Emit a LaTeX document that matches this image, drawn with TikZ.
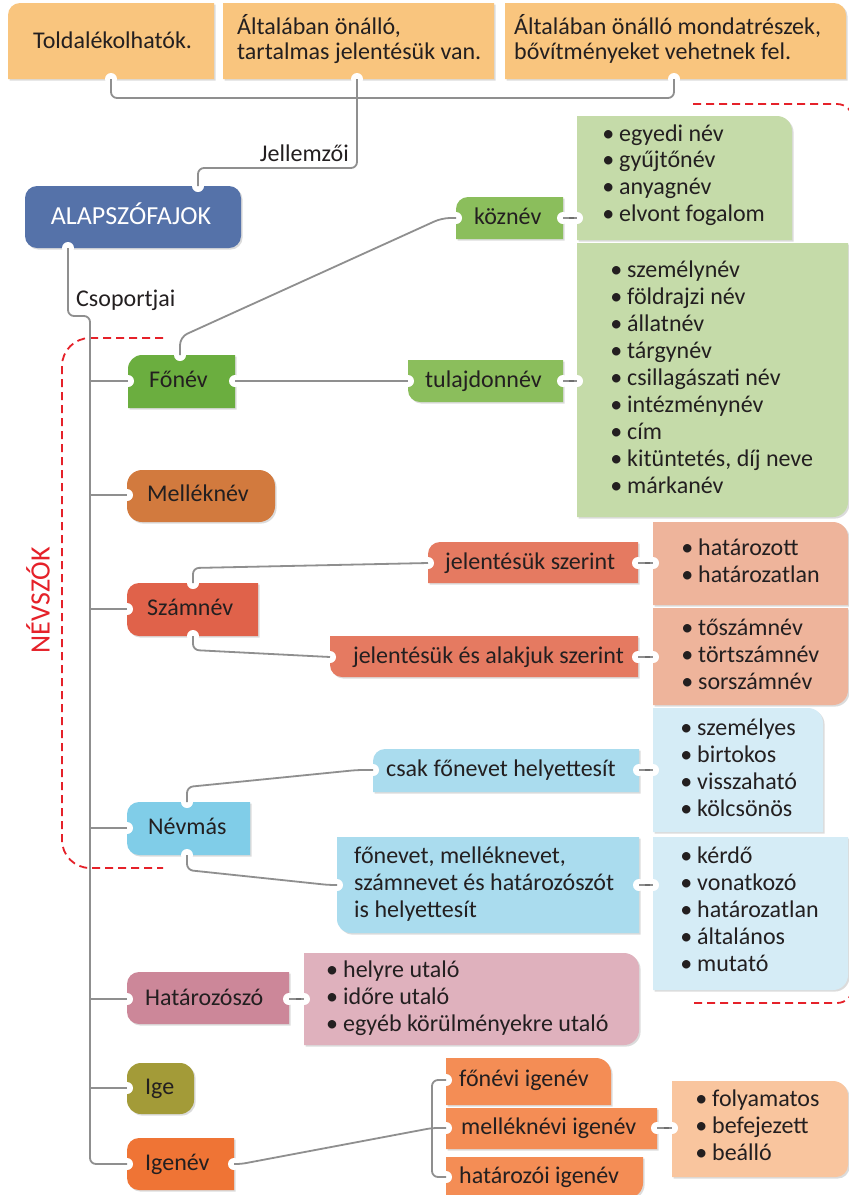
\documentclass[tikz,border=0pt]{standalone}
\usepackage{fontspec}
\setmainfont{Carlito}
\usetikzlibrary{shadows,decorations.markings}
\definecolor{txtc}{HTML}{231F20}
\definecolor{connc}{HTML}{8F8F8F}
\definecolor{conndark}{HTML}{6E6E6E}
\definecolor{redc}{HTML}{E52129}
\definecolor{topc}{HTML}{F9C57E}
\definecolor{bluec}{HTML}{5572A9}
\definecolor{fonevc}{HTML}{6BAE3F}
\definecolor{greenchild}{HTML}{8BBE5C}
\definecolor{greenlist}{HTML}{C5DBA9}
\definecolor{mellekc}{HTML}{D27A3E}
\definecolor{szamc}{HTML}{E0624A}
\definecolor{szamchild}{HTML}{E57A61}
\definecolor{szamlist}{HTML}{EEB49B}
\definecolor{nevmasc}{HTML}{80CDE8}
\definecolor{nevchild}{HTML}{AADCEE}
\definecolor{nevlist}{HTML}{D5ECF6}
\definecolor{hatc}{HTML}{CC8799}
\definecolor{hatlist}{HTML}{DFB1BD}
\definecolor{igec}{HTML}{A39B38}
\definecolor{igenevc}{HTML}{EF7435}
\definecolor{igchild}{HTML}{F48D55}
\definecolor{iglist}{HTML}{F9C59E}
% #1 fill, #2 x1, #3 y1, #4 x2, #5 y2, #6 rTL, #7 rTR, #8 rBR, #9 rBL
\newcommand\shapebox[9]{%
 \fill[#1,boxshadow] (#2,{#3+#6}) arc[start angle=180,end angle=90,radius={#6*1pt}]
 -- ({#4-#7},#3) arc[start angle=90,end angle=0,radius={#7*1pt}]
 -- (#4,{#5-#8}) arc[start angle=0,end angle=-90,radius={#8*1pt}]
 -- ({#2+#9},#5) arc[start angle=-90,end angle=-180,radius={#9*1pt}] -- cycle;}
\newcommand\cutout[3]{\coordinate (#1) at (#2,#3); \fill[white] (#1) circle[radius=6pt];}
\newcommand\listitems[5]{%
 \foreach \t [count=\i] in {#5} {\node[txt] (#1\i) at (#2,{#3+(\i-1)*#4}) {\llap{•\hspace{5pt}}\t};}}
\begin{document}
\begin{tikzpicture}[x=1pt,y=-1pt,
 boxshadow/.style={drop shadow={opacity=0.28,shadow xshift=1.6pt,shadow yshift=-1.6pt}},
 connl/.style={draw=connc,line width=1.8pt},
 tickline/.style={connl,postaction={decorate,decoration={markings,mark=at position 0.6 with {\fill[conndark] (-2.5pt,-1.3pt) rectangle (2.5pt,1.3pt);}}}},
 reddash/.style={draw=redc,line width=1.8pt,dash pattern=on 8pt off 5pt},
 txt/.style={inner sep=0pt,text height=17pt,text depth=5pt,text=txtc,font=\fontsize{24}{27}\selectfont,anchor=west}]
\useasboundingbox (0,0) rectangle (849,1195);
\fill[white] (0,0) rectangle (849,1195);

% red dashed groups
\draw[reddash,rounded corners=28pt] (163,338) -- (62,338) -- (62,868) -- (163,868);
\draw[reddash,rounded corners=16pt] (693,104) -- (853,104) -- (853,1003) -- (693,1003);

% top boxes
\shapebox{topc}{8}{3}{214}{79}{12}{0.01}{0.01}{0.01}
\cutout{tb1-b}{111}{79}
\shapebox{topc}{223}{3}{494}{79}{0.01}{0.01}{0.01}{0.01}
\cutout{tb2-b}{357}{79}
\shapebox{topc}{505}{3}{846}{79}{0.01}{12}{0.01}{0.01}
\cutout{tb3-b}{674}{79}

% root
\shapebox{bluec}{25}{186}{241}{248}{12}{12}{12}{12}
\cutout{alap-t}{198}{186}
\cutout{alap-b}{68}{248}
\coordinate (spine) at (90,316);

% main categories
\shapebox{fonevc}{128}{355}{235}{408}{14}{0.01}{0.01}{0.01}
\cutout{fonev-l}{128}{381}
\cutout{fonev-t}{180}{355}
\cutout{fonev-r}{235}{381}
\shapebox{mellekc}{127}{470}{275}{522}{15}{16}{16}{15}
\cutout{mellek-l}{127}{495}
\shapebox{szamc}{127}{583}{258}{636}{12}{0.01}{0.01}{12}
\cutout{szam-l}{127}{609}
\cutout{szam-t}{193}{583}
\cutout{szam-b}{193}{636}
\shapebox{nevmasc}{127}{802}{250}{855}{12}{0.01}{0.01}{12}
\cutout{nevmas-l}{127}{828}
\cutout{nevmas-t}{187}{802}
\cutout{nevmas-b}{187}{855}
\shapebox{hatc}{127}{972}{289}{1024}{12}{0.01}{0.01}{12}
\cutout{hat-l}{127}{999}
\cutout{hat-r}{289}{999}
\shapebox{igec}{127}{1063}{194}{1114}{14}{14}{14}{14}
\cutout{ige-l}{127}{1088}
\shapebox{igenevc}{127}{1138}{234}{1190}{12}{0.01}{0.01}{12}
\cutout{igenev-l}{127}{1164}
\cutout{igenev-r}{234}{1164}

% second level
\shapebox{greenchild}{456}{197}{563}{239}{12}{0.01}{0.01}{0.01}
\cutout{koz-l}{456}{218}
\cutout{koz-r}{563}{218}
\shapebox{greenchild}{408}{360}{563}{402}{0.01}{0.01}{0.01}{12}
\cutout{tul-l}{408}{381}
\cutout{tul-r}{563}{381}
\shapebox{szamchild}{428}{542}{638}{583}{12}{0.01}{0.01}{0.01}
\cutout{szj1-l}{428}{563}
\cutout{szj1-r}{638}{563}
\shapebox{szamchild}{330}{636}{638}{677}{0.01}{0.01}{0.01}{12}
\cutout{szj2-l}{330}{657}
\cutout{szj2-r}{638}{657}
\shapebox{nevchild}{373}{749}{639}{792}{12}{0.01}{0.01}{0.01}
\cutout{csak-l}{373}{770}
\cutout{csak-r}{639}{770}
\shapebox{nevchild}{337}{837}{639}{933}{0.01}{0.01}{0.01}{14}
\cutout{fonevet-l}{337}{885}
\cutout{fonevet-r}{639}{885}
\shapebox{igchild}{446}{1058}{611}{1105}{0.01}{15}{0.01}{0.01}
\cutout{fonevi-l}{446}{1080}
\shapebox{igchild}{446}{1108}{657}{1149}{0.01}{0.01}{0.01}{0.01}
\cutout{mell-l}{446}{1128}
\cutout{mell-r}{657}{1128}
\shapebox{igchild}{446}{1157}{643}{1198}{0.01}{0.01}{15}{0.01}
\cutout{hatarozoi-l}{446}{1177}

% lists
\shapebox{greenlist}{577}{116}{792}{240}{0.01}{15}{0.01}{0.01}
\cutout{kozl-l}{577}{218}
\shapebox{greenlist}{577}{243}{848}{517}{0.01}{0.01}{15}{0.01}
\cutout{tull-l}{577}{381}
\shapebox{szamlist}{653}{522}{848}{605}{0.01}{15}{0.01}{0.01}
\cutout{szam1l-l}{653}{563}
\shapebox{szamlist}{653}{608}{848}{705}{0.01}{0.01}{15}{0.01}
\cutout{szam2l-l}{653}{657}
\shapebox{nevlist}{653}{708}{823}{832}{0.01}{15}{0.01}{0.01}
\cutout{nev1l-l}{653}{770}
\shapebox{nevlist}{653}{837}{848}{990}{0.01}{0.01}{15}{0.01}
\cutout{nev2l-l}{653}{885}
\shapebox{hatlist}{304}{953}{639}{1045}{0.01}{15}{15}{0.01}
\cutout{hatl-l}{304}{999}
\shapebox{iglist}{672}{1081}{848}{1177}{0.01}{15}{12}{0.01}
\cutout{igenl-l}{672}{1128}

% connectors
\draw[connl,rounded corners=6pt] (tb1-b) -- (111,98) -- (674,98) -- (tb3-b);
\draw[connl,rounded corners=6pt] (tb2-b) -- (357,168) -- (198,168) -- (alap-t);
\draw[connl,rounded corners=6pt] (alap-b) -- (68,316) -- (spine) -- (90,1164) -- (igenev-l);
\foreach \n in {fonev-l,mellek-l,szam-l,nevmas-l,hat-l,ige-l} \draw[connl] (spine |- \n) -- (\n);
\draw[connl,rounded corners=8pt] (fonev-t) -- (180,337) -- (442,218) -- (koz-l);
\draw[connl] (fonev-r) -- (tul-l);
\draw[connl,rounded corners=6pt] (szam-t) -- (193,568) -- (szj1-l);
\draw[connl,rounded corners=6pt] (szam-b) -- (193,650) -- (szj2-l);
\draw[connl,rounded corners=6pt] (nevmas-t) -- (187,787) -- (357,770) -- (csak-l);
\draw[connl,rounded corners=6pt] (nevmas-b) -- (187,870) -- (329,885) -- (fonevet-l);
\draw[connl,rounded corners=5pt] (igenev-r) -- (241,1164) -- (432,1128) -- (mell-l);
\draw[connl,rounded corners=6pt] (fonevi-l) -- (432,1080) -- (432,1177) -- (hatarozoi-l);
\draw[tickline] (koz-r) -- (kozl-l);
\draw[tickline] (tul-r) -- (tull-l);
\draw[tickline] (szj1-r) -- (szam1l-l);
\draw[tickline] (szj2-r) -- (szam2l-l);
\draw[tickline] (csak-r) -- (nev1l-l);
\draw[tickline] (fonevet-r) -- (nev2l-l);
\draw[tickline] (hat-r) -- (hatl-l);
\draw[tickline] (mell-r) -- (igenl-l);

% texts
\node[txt] (t1) at (33,42) {Toldalékolhatók.};
\node[txt] (t2a) at (237,28) {Általában önálló,};
\node[txt] (t2b) at (237,53) {tartalmas jelentésük van.};
\node[txt] (t3a) at (514,28) {Általában önálló mondatrészek,};
\node[txt] (t3b) at (514,53) {bővítményeket vehetnek fel.};
\node[txt,anchor=east] (jell) at (349,155) {Jellemzői};
\node[txt,anchor=center,text=white,font=\fontsize{26}{30}\selectfont] (alap) at (131,218) {ALAPSZÓFAJOK};
\node[txt] (csop) at (76,300) {Csoportjai};
\node[rotate=90,text=redc,font=\fontsize{28}{30}\selectfont,inner sep=0pt] (nevszok) at (38,600) {NÉVSZÓK};

\node[txt] (fonev) at (149,381) {Főnév};
\node[txt] (mellek) at (147,495) {Melléknév};
\node[txt] (szam) at (147,609) {Számnév};
\node[txt] (nevmas) at (148,828) {Névmás};
\node[txt] (hat) at (145,999) {Határozószó};
\node[txt] (ige) at (145,1088) {Ige};
\node[txt] (igenev) at (145,1164) {Igenév};

\node[txt] (koz) at (474,218) {köznév};
\node[txt] (tul) at (425,381) {tulajdonnév};
\node[txt] (szj1) at (445,563) {jelentésük szerint};
\node[txt,anchor=east] (szj2) at (624,657) {jelentésük és alakjuk szerint};
\node[txt] (csak) at (386,770) {csak főnevet helyettesít};
\node[txt] (fonevet1) at (354,857) {főnevet, melléknevet,};
\node[txt] (fonevet2) at (354,884) {számnevet és határozószót};
\node[txt] (fonevet3) at (354,911) {is helyettesít};
\node[txt] (fonevi) at (459,1080) {főnévi igenév};
\node[txt] (mell) at (461,1128) {melléknévi igenév};
\node[txt] (hatarozoi) at (459,1177) {határozói igenév};

\listitems{kozi}{619}{135}{26.7}{egyedi név,gyűjtőnév,anyagnév,elvont fogalom}
\listitems{tuli}{627}{271}{27}{személynév,földrajzi név,állatnév,tárgynév,csillagászati név,intézménynév,cím,{kitüntetés, díj neve},márkanév}
\listitems{szaai}{698}{549}{27}{határozott,határozatlan}
\listitems{szabi}{698}{629}{27}{tőszámnév,törtszámnév,sorszámnév}
\listitems{neai}{697}{729}{27}{személyes,birtokos,visszaható,kölcsönös}
\listitems{nebi}{697}{857}{27}{kérdő,vonatkozó,határozatlan,általános,mutató}
\listitems{hati}{343}{971}{27}{helyre utaló,időre utaló,egyéb körülményekre utaló}
\listitems{igi}{712}{1100}{27}{folyamatos,befejezett,beálló}
\end{tikzpicture}
\end{document}
